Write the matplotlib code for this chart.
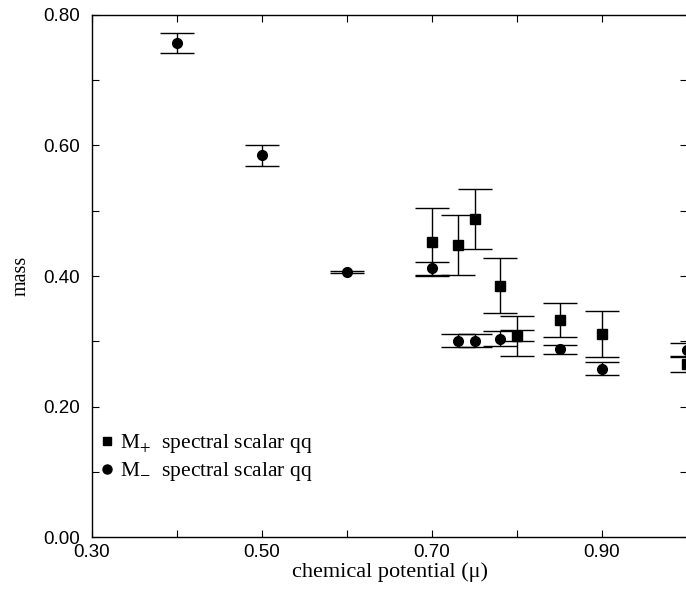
import matplotlib
matplotlib.use("Agg")
import matplotlib.pyplot as plt
from matplotlib.lines import Line2D
from matplotlib.ticker import FixedLocator, MultipleLocator, FormatStrFormatter

# M+ (squares)
mu_plus = [0.70, 0.73, 0.75, 0.78, 0.80, 0.85, 0.90, 1.00]
m_plus = [0.452, 0.448, 0.488, 0.385, 0.308, 0.332, 0.311, 0.265]
m_plus_err = [0.052, 0.046, 0.046, 0.042, 0.030, 0.026, 0.035, 0.012]

# M- (circles)
mu_minus = [0.40, 0.50, 0.60, 0.70, 0.73, 0.75, 0.78, 0.80, 0.85, 0.90, 1.00]
m_minus = [0.757, 0.585, 0.406, 0.412, 0.301, 0.301, 0.304, 0.309, 0.288, 0.258, 0.287]
m_minus_err = [0.015, 0.016, 0.002, 0.010, 0.010, 0.010, 0.012, 0.009, 0.007, 0.010, 0.011]

x_major = [0.30, 0.50, 0.70, 0.90]
x_minor = [0.40, 0.60, 0.80]

labels = [r"M$_{+}$  spectral scalar qq", r"M$_{-}$  spectral scalar qq"]

plt.rcParams['mathtext.fontset'] = 'stix'

fig = plt.figure(figsize=(6.86, 5.90), dpi=100)
ax = fig.add_axes([0.1341, 0.0898, 0.8674, 0.8848])

ax.errorbar(mu_plus, m_plus, yerr=m_plus_err, fmt='s', color='black',
            markersize=6.5, capsize=12, elinewidth=1.0, capthick=1.0, clip_on=False, zorder=3)
ax.errorbar(mu_minus, m_minus, yerr=m_minus_err, fmt='o', color='black',
            markersize=7, capsize=12, elinewidth=1.0, capthick=1.0, clip_on=False, zorder=3)

ax.set_xlim(0.30, 1.00)
ax.set_ylim(0.0, 0.80)
ax.xaxis.set_major_locator(FixedLocator(x_major))
ax.xaxis.set_minor_locator(FixedLocator(x_minor))
ax.yaxis.set_major_locator(MultipleLocator(0.2))
ax.yaxis.set_minor_locator(MultipleLocator(0.1))
ax.xaxis.set_major_formatter(FormatStrFormatter('%.2f'))
ax.yaxis.set_major_formatter(FormatStrFormatter('%.2f'))
ax.tick_params(which='both', direction='in', top=True, right=True, length=5, width=0.8)
ax.tick_params(axis='y', which='major', labelsize=13.5, pad=8.5)
ax.tick_params(axis='x', which='major', labelsize=13.5, pad=5)
for lab in ax.get_xticklabels() + ax.get_yticklabels():
    lab.set_family('Liberation Sans')
for sp in ax.spines.values():
    sp.set_linewidth(1.0)

ax.set_xlabel("chemical potential (μ)", fontsize=16, family='Liberation Serif', labelpad=1)
ax.set_ylabel("mass", fontsize=14.5, family='Liberation Serif', labelpad=9)

handles = [Line2D([], [], marker='s', color='black', linestyle='none', markersize=6),
           Line2D([], [], marker='o', color='black', linestyle='none', markersize=6.5)]
ax.legend(handles, labels, loc='upper left', bbox_to_anchor=(0.014, 0.201), frameon=False,
          prop={'family': 'Liberation Serif', 'size': 15.5}, handlelength=0.6,
          handletextpad=0.3, borderpad=0, borderaxespad=0, labelspacing=0.25)

fig.savefig("out.png", dpi=100)
